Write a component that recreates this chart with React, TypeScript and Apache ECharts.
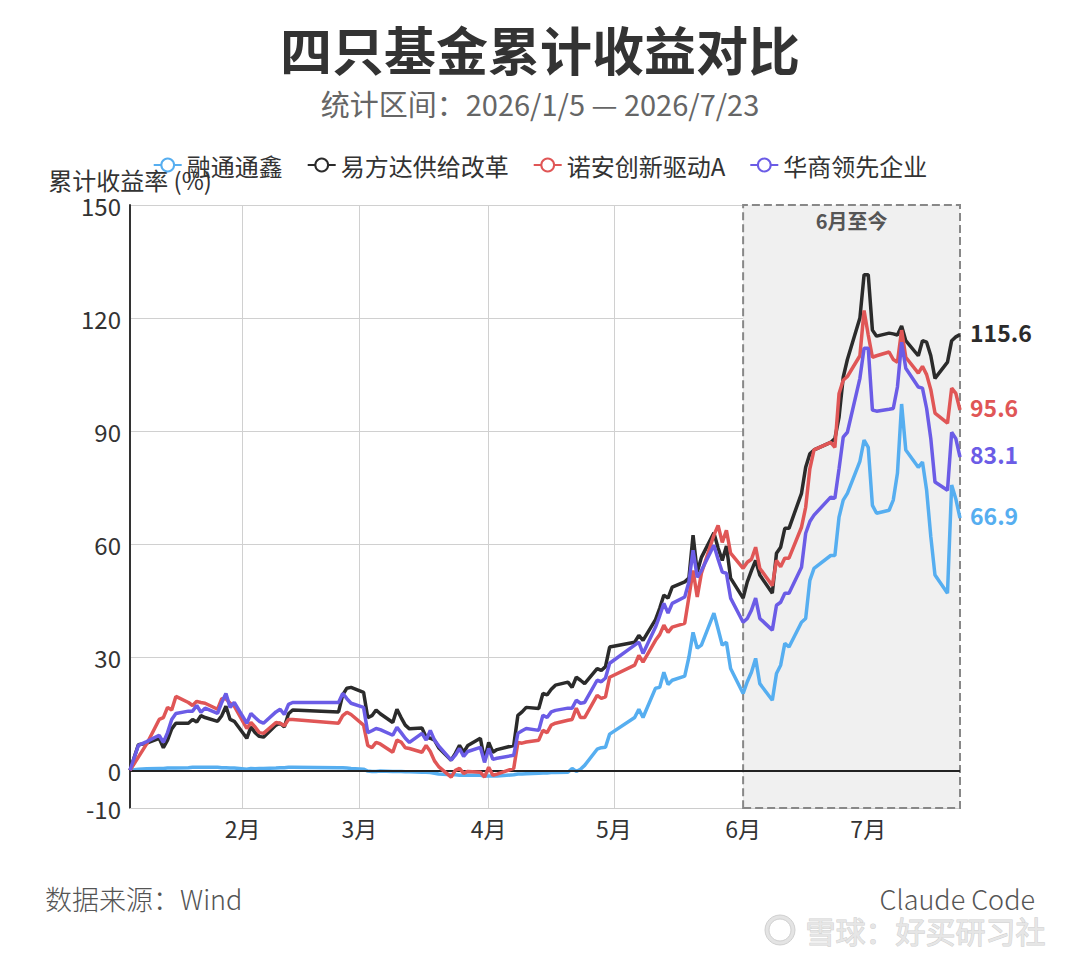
import React, { useEffect, useRef } from "react";
import * as echarts from "echarts";

const dates = [
  "2026-01-05","2026-01-07","2026-01-09","2026-01-12","2026-01-13","2026-01-14","2026-01-15","2026-01-16","2026-01-19","2026-01-20","2026-01-21","2026-01-22","2026-01-23","2026-01-26","2026-01-27","2026-01-28","2026-01-29","2026-01-30",
  "2026-02-02","2026-02-03","2026-02-04","2026-02-05","2026-02-06","2026-02-09","2026-02-10","2026-02-11","2026-02-12","2026-02-13","2026-02-24","2026-02-25","2026-02-26","2026-02-27",
  "2026-03-02","2026-03-03","2026-03-04","2026-03-05","2026-03-06","2026-03-09","2026-03-10","2026-03-11","2026-03-12","2026-03-13","2026-03-16","2026-03-17","2026-03-18","2026-03-19","2026-03-20","2026-03-23","2026-03-24","2026-03-25","2026-03-26","2026-03-27","2026-03-30","2026-03-31",
  "2026-04-01","2026-04-02","2026-04-03","2026-04-07","2026-04-08","2026-04-09","2026-04-10","2026-04-13","2026-04-14","2026-04-15","2026-04-16","2026-04-17","2026-04-20","2026-04-21","2026-04-22","2026-04-23","2026-04-24","2026-04-27","2026-04-28","2026-04-29","2026-04-30",
  "2026-05-06","2026-05-07","2026-05-08","2026-05-11","2026-05-12","2026-05-13","2026-05-14","2026-05-15","2026-05-18","2026-05-19","2026-05-20","2026-05-21","2026-05-22","2026-05-25","2026-05-26","2026-05-27","2026-05-28","2026-05-29",
  "2026-06-01","2026-06-02","2026-06-03","2026-06-04","2026-06-05","2026-06-08","2026-06-09","2026-06-10","2026-06-11","2026-06-12","2026-06-15","2026-06-16","2026-06-17","2026-06-18","2026-06-22","2026-06-23","2026-06-24","2026-06-25","2026-06-26","2026-06-29","2026-06-30",
  "2026-07-01","2026-07-02","2026-07-03","2026-07-06","2026-07-07","2026-07-08","2026-07-09","2026-07-10","2026-07-13","2026-07-14","2026-07-15","2026-07-16","2026-07-17","2026-07-20","2026-07-21","2026-07-22","2026-07-23",
];

// 融通通鑫
const rongtong = [
  0, 0.3, 0.4, 0.5, 0.5, 0.6, 0.6, 0.6, 0.7, 0.8, 0.8, 0.8, 0.8, 0.8, 0.7, 0.7, 0.6, 0.6,
  0.3, 0.5, 0.4, 0.5, 0.5, 0.6, 0.7, 0.7, 0.8, 0.8, 0.7, 0.7, 0.6, 0.5,
  0.3, -0.2, -0.3, -0.3, -0.2, -0.3, -0.3, -0.3, -0.4, -0.4, -0.5, -0.5, -0.6, -0.8, -1, -1.2, -1.2, -1.3, -1.3, -1.3, -1.3, -1.5,
  -1.5, -1.5, -1.5, -1.2, -1, -1, -0.9, -0.8, -0.7, -0.7, -0.6, -0.6, -0.5, 0.5, -0.3, 0.3, 1.3, 5.6, 6, 6.1, 9.6,
  14, 16.2, 14, 21.8, 22, 26, 22.8, 23.9, 25, 30, 36.6, 32.4, 33.2, 41.7, 37.5, 33.2, 34, 27,
  20.4, 23.5, 26, 29.7, 23, 18.6, 25.7, 27.9, 33.7, 32.7, 39.3, 40.3, 50.4, 53.6, 57, 57, 67.2, 71.7, 73.5, 82, 87.6,
  85.7, 70.3, 68.2, 69, 71.7, 78.8, 97.2, 85, 80.4, 81.8, 74.3, 62, 51.8, 47, 75.7, 72, 66.9,
];

// 易方达供给改革
const yifangda = [
  0, 6.8, 7.2, 8.5, 6, 8, 11, 12.5, 12.5, 13.5, 12.8, 14.5, 14, 13, 14.5, 17, 13.5, 13,
  8.5, 11.5, 10, 9, 8.8, 12, 12.5, 11.5, 15, 16, 15.5, 20, 21.8, 22,
  20.7, 14, 14.5, 16, 15, 12.7, 16.2, 14, 12, 11, 11.2, 8.8, 8.5, 8, 6, 2.7, 4.5, 6.6, 4.8, 6.6, 8.5, 2.7,
  7.4, 4.8, 5.5, 6.6, 14.6, 15.5, 16.7, 16.4, 20.4, 20, 21.5, 22.6, 23.4, 22, 24.7, 23.9, 23, 27, 26.5, 27.5, 32.7,
  34, 35.8, 34.5, 40, 43, 46.5, 45.7, 48.6, 50, 51, 62.4, 52.6, 56.5, 63, 59, 55.7, 59.5, 51,
  45.7, 50, 53, 55.7, 51.8, 47, 57.6, 59.2, 64.2, 64.2, 73.5, 80.4, 84, 85, 87, 88, 93.7, 104.3, 109, 120, 131.5,
  131.5, 116.8, 115.2, 116, 115.8, 115.5, 117.9, 114, 110, 114, 113.6, 110, 104, 108.3, 114, 115, 115.6,
];

// 诺安创新驱动A
const nuoan = [
  0, 3.5, 7, 13.5, 14, 16.7, 16, 19.6, 18, 17.2, 18.3, 18, 17.8, 16.2, 19, 19, 17.8, 17,
  11.1, 12.7, 11.5, 10, 9.8, 12.7, 12.5, 11.8, 13.5, 13.5, 12.5, 14.5, 15.4, 14.8,
  12, 6.6, 6, 7.4, 7, 4.8, 8, 7.5, 6, 5.8, 4.8, 6.6, 5, 2.5, 1, -1.8, 0, 0.5, -0.8, -0.3, -0.5, -1.8,
  0.8, -1.3, -1, 0.5, 7.4, 7.2, 7.5, 8, 10.6, 10, 12, 12.5, 13.3, 13.5, 16.5, 14, 14, 19.9, 19.1, 19.5, 24.7,
  27.9, 30.5, 28.7, 34.5, 36, 38.5, 36.6, 38, 39, 46, 53, 46, 52.3, 62.4, 65, 60.5, 63.7, 57.6,
  53.6, 55.2, 56, 59.2, 53.6, 49, 55.7, 54, 56.3, 56.3, 64.5, 69.8, 80, 85, 87, 85.7, 100, 103.5, 104.5, 110, 122,
  115.5, 109.6, 110, 111, 109, 108.3, 116.8, 109.6, 105.4, 107.2, 105, 101, 94.8, 92.1, 101.4, 100, 95.6,
];

// 华商领先企业
const huashang = [
  0, 6.6, 7.6, 9.3, 7.4, 10, 13.5, 15.1, 15.7, 15.7, 17.2, 15.4, 16.5, 15.1, 18, 20.4, 16.7, 18,
  12.5, 15.1, 14, 13, 12.5, 15.5, 16.2, 14.8, 17.5, 18, 18, 20.4, 19, 17.8,
  16.7, 10, 10.5, 11.1, 10.8, 9.3, 11.4, 10, 8.5, 7.4, 9.8, 8, 10.6, 8, 6.5, 2.7, 4, 5.8, 3.7, 5, 6.1, 2.1,
  5.8, 2.9, 3.2, 4, 9.8, 10.5, 11.1, 10.6, 14.6, 14, 15.5, 15.9, 16.5, 16.5, 18.6, 17.8, 18, 23.9, 23.5, 24.5, 28.4,
  33.2, 34, 31, 38, 41, 44.3, 41.7, 44.3, 46, 50, 58.4, 51.2, 53, 59.7, 56, 52.6, 52.3, 45.7,
  39.3, 40.3, 42.5, 45.7, 40.3, 37.2, 43.8, 44.6, 47, 47, 53.9, 62.9, 66, 67.7, 72.5, 72.2, 80, 88.4, 89.7, 104, 112,
  112, 95.6, 95.3, 95.8, 96, 101.7, 113.6, 106.7, 101.7, 101.4, 96, 88, 76.5, 74.3, 89.7, 88, 83.1,
];

const seriesNames = ["融通通鑫", "易方达供给改革", "诺安创新驱动A", "华商领先企业"];
const seriesColors = ["#56aef0", "#2b2b2b", "#e05656", "#6b5ce6"];
const yTickValues = [-10, 0, 30, 60, 90, 120, 150];
const monthStarts = ["2026-02-01", "2026-03-01", "2026-04-01", "2026-05-01", "2026-06-01", "2026-07-01"];
const highlightStart = "2026-06-01";
const highlightEnd = "2026-07-23";
const highlightLabel = "6月至今";

const FONT = '"Noto Sans CJK SC", "Noto Sans", sans-serif';

function ts(s: string): number {
  const [y, m, d] = s.split("-").map(Number);
  return new Date(y, m - 1, d).getTime();
}

export default function App() {
  const ref = useRef<HTMLDivElement>(null);

  useEffect(() => {
    document.body.style.margin = "0";
    if (!ref.current) return;
    const chart = echarts.init(ref.current, null, { renderer: "svg" });
    const monthTs = monthStarts.map(ts);
    const valueSets = [rongtong, yifangda, nuoan, huashang];

    const series: any[] = valueSets.map((vals, i) => {
      const s: any = {
        name: seriesNames[i],
        type: "line",
        data: dates.map((d, j) => [ts(d), vals[j]]),
        showSymbol: false,
        symbol: "emptyCircle",
        symbolSize: 8,
        lineStyle: { width: 3.5, color: seriesColors[i] },
        itemStyle: { color: seriesColors[i] },
        z: 3 + i,
        endLabel: {
          show: true,
          formatter: (p: any) => Number(p.value[1]).toFixed(1),
          color: seriesColors[i],
          fontSize: 23,
          fontWeight: "bold",
          fontFamily: FONT,
          distance: 10,
          offset: [0, -3],
        },
      };
      if (i === 0) {
        s.markArea = {
          silent: true,
          itemStyle: {
            color: "#f0f0f0",
            borderColor: "#888888",
            borderWidth: 2,
            borderType: "dashed",
          },
          label: {
            show: true,
            position: "insideTop",
            distance: 6,
            color: "#555555",
            fontSize: 20,
            fontWeight: "bold",
            fontFamily: FONT,
          },
          data: [[{ xAxis: ts(highlightStart), name: highlightLabel }, { xAxis: ts(highlightEnd) }]],
        };
      }
      if (i === 1) {
        s.markLine = {
          silent: true,
          symbol: ["none", "none"],
          label: { show: false },
          lineStyle: { color: "#222222", width: 2, type: "solid" },
          data: [{ yAxis: 0 }],
        };
      }
      return s;
    });

    chart.setOption({
      animation: false,
      backgroundColor: "#ffffff",
      textStyle: { fontFamily: FONT },
      title: [
        {
          text: "四只基金累计收益对比",
          left: "center",
          top: 17,
          textStyle: { fontSize: 52, fontWeight: "bold", color: "#333333", fontFamily: FONT },
        },
        {
          text: "统计区间：2026/1/5 — 2026/7/23",
          left: "center",
          top: 83,
          textStyle: { fontSize: 29, fontWeight: "normal", color: "#666666", fontFamily: FONT },
        },
      ],
      legend: {
        top: 148,
        left: "center",
        itemWidth: 28,
        itemHeight: 16,
        itemGap: 24,
        textStyle: { fontSize: 24, color: "#333333", fontFamily: FONT },
        data: seriesNames,
      },
      grid: { left: 130, right: 120, top: 205, bottom: 152, containLabel: false },
      xAxis: {
        type: "value",
        min: ts(dates[0]),
        max: ts(dates[dates.length - 1]),
        axisLine: { show: true, onZero: false, lineStyle: { color: "#cccccc", width: 1 } },
        axisTick: { show: false, customValues: monthTs },
        axisLabel: {
          customValues: monthTs,
          formatter: (v: number) => new Date(v).getMonth() + 1 + "月",
          fontSize: 23,
          color: "#333333",
          margin: 8,
          fontFamily: FONT,
        },
        splitLine: { show: true, lineStyle: { color: "#d0d0d0", width: 1 } },
      },
      yAxis: {
        type: "value",
        min: -10,
        max: 150,
        name: "累计收益率 (%)",
        nameLocation: "end",
        nameGap: 14,
        nameTextStyle: { fontSize: 24, color: "#333333", fontFamily: FONT, align: "center" },
        axisLine: { show: true, lineStyle: { color: "#333333", width: 2 } },
        axisTick: { show: false, customValues: yTickValues },
        axisLabel: {
          customValues: yTickValues,
          fontSize: 24,
          color: "#333333",
          margin: 9,
          fontFamily: FONT,
        },
        splitLine: { show: true, lineStyle: { color: "#d0d0d0", width: 1 } },
      },
      graphic: [
        {
          type: "text",
          left: 45,
          top: 885,
          style: { text: "数据来源：Wind", fontSize: 27, fontWeight: 300, fill: "#555555", fontFamily: FONT },
        },
        {
          type: "text",
          right: 45,
          top: 885,
          style: { text: "Claude Code", fontSize: 27, fontWeight: 300, fill: "#555555", fontFamily: FONT },
        },
        {
          type: "ring",
          shape: { cx: 780, cy: 930, r: 15, r0: 11 },
          style: { fill: "#e4e4e4", stroke: "#d0d0d0", lineWidth: 1 },
        },
        {
          type: "text",
          left: 805,
          top: 914,
          style: {
            text: "雪球：好买研习社",
            fontSize: 30,
            fill: "#e6e6e6",
            stroke: "#d0d0d0",
            lineWidth: 1,
            fontFamily: FONT,
          },
        },
      ],
      series,
    });

    return () => chart.dispose();
  }, []);

  return <div ref={ref} style={{ width: 1080, height: 960 }} />;
}
